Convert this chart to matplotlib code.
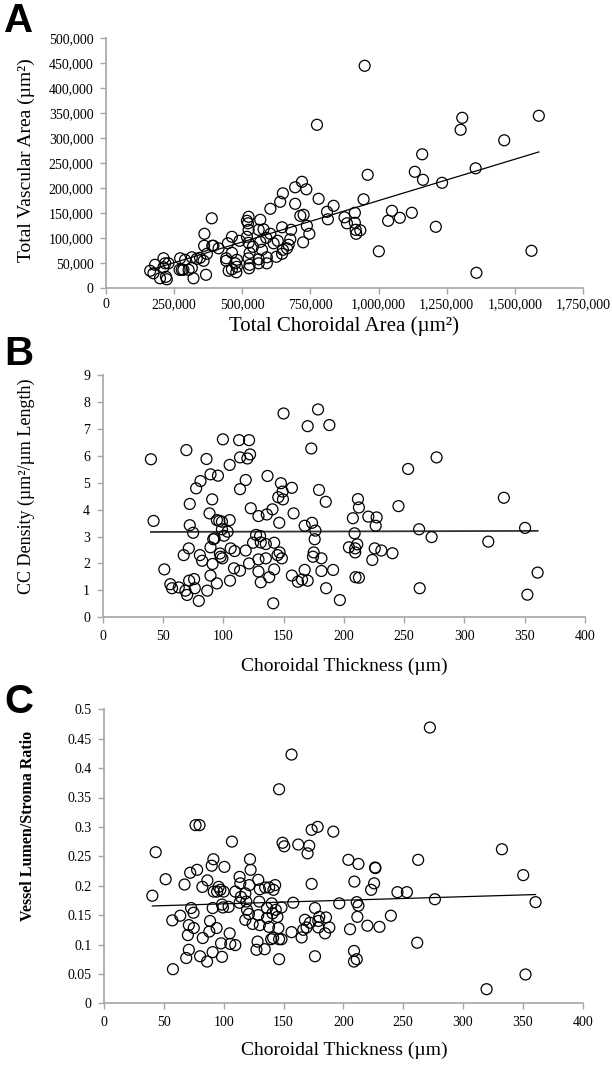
import matplotlib
matplotlib.use("Agg")
import matplotlib.pyplot as plt
import numpy as np
from matplotlib.ticker import FuncFormatter, MultipleLocator

# ---------------- Data ----------------
# Panel A: total choroidal area vs total vascular area (um^2)
a_x = [774000, 388000, 719000, 694000, 735000, 649000, 780000, 835000, 639000, 694000,
       603000, 566000, 523000, 517000, 521000, 725000, 713000, 811000, 814000, 737000,
       746000, 723000, 646000, 679000, 578000, 560000, 603000, 588000, 566000, 523000,
       517000, 523000, 490000, 462000, 447000, 413000, 390000, 361000, 360000, 394000,
       370000, 333000, 358000, 345000, 315000, 290000, 272000, 315000, 303000, 278000,
       270000, 321000, 367000, 441000, 441000, 462000, 480000, 474000, 480000, 462000,
       450000, 478000, 527000, 523000, 527000, 525000, 560000, 560000, 590000, 590000,
       572000, 539000, 625000, 646000, 649000, 664000, 670000, 676000, 630000, 615000,
       211000, 180000, 217000, 229000, 162000, 174000, 198000, 223000, 220000, 211000,
       284000,
       949000, 1307000, 1301000, 1588000, 1461000, 1160000, 1133000, 1163000, 1233000, 1356000,
       960000, 945000, 913000, 875000, 884000, 913000, 916000, 918000, 933000, 1049000,
       1035000, 1078000, 1122000, 1210000, 1001000, 1561000, 1359000]
a_y = [327000, 140000, 213000, 202000, 198000, 190000, 179000, 165000, 173000, 169000,
       159000, 137000, 143000, 135000, 130000, 147000, 145000, 153000, 138000, 125000,
       109000, 92000, 122000, 117000, 118000, 117000, 109000, 101000, 93000, 117000,
       103000, 91000, 95000, 103000, 90000, 80000, 85000, 109000, 85000, 85000,
       69000, 59000, 55000, 61000, 62000, 57000, 60000, 41000, 37000, 37000,
       37000, 20000, 27000, 60000, 55000, 71000, 57000, 50000, 43000, 38000,
       35000, 32000, 71000, 60000, 47000, 40000, 58000, 50000, 50000, 62000,
       77000, 83000, 63000, 69000, 77000, 80000, 87000, 98000, 95000, 90000,
       60000, 47000, 50000, 50000, 35000, 30000, 20000, 18000, 23000, 42000,
       37000,
       445000, 341000, 317000, 345000, 296000, 268000, 233000, 217000, 211000, 240000,
       227000, 178000, 151000, 142000, 130000, 131000, 117000, 109000, 116000, 155000,
       135000, 141000, 151000, 123000, 74000, 75000, 31000]
a_trend = [0.1655, 9900.0]   # slope, intercept

# Panel B: choroidal thickness (um) vs CC density
b_x = [40, 42.2, 51.1, 56.1, 57.5, 63.1, 68.6, 70, 69.4, 72.2, 72.2, 75, 71.4, 67.2, 71.7,
       75.8, 76.4, 79.7, 77.5, 81.1, 86.1, 89.4, 95.6, 90.8, 88.6, 80.6, 82.5, 86.7, 89.4,
       91.7, 92.8, 89.4, 91.1, 94.7, 94.7, 96.7, 98.9, 99.7, 98.9, 103.6, 97.2, 99.2, 97.8,
       100.6, 105.3, 105.3, 105.6, 106.1, 109.4, 108.9, 113.9, 113.1, 113.9, 113.9, 118.6,
       121.4, 120, 122.2, 122.8, 118.6, 121.4, 129.2, 127.2, 130.5, 124.7, 131.1, 129.2,
       129.2, 131.1, 136.7, 136.1, 140.8, 135.3, 142.2, 135.3, 138.1, 142.2, 145, 141.4,
       145.6, 147.8, 146.4,
       150, 178.6, 170, 188, 173, 149.2, 149.5, 156.9, 158.3, 179.4, 185, 167.5, 173.6,
       176.4, 175.8, 146.7, 148.6, 175, 174.4, 181.4, 156.9, 161.9, 170, 167.5, 165.3,
       181.4, 191.1, 185.3, 196.7, 211.7, 212.5, 207.5, 220.3, 227.2, 226.4, 208.9, 204.2,
       211.1, 209.4, 209.4, 225.6, 231.1, 240.3, 223.6, 209.7, 212.5, 245.3, 253.3,
       276.9, 332.7, 262.4, 272.8, 319.8, 350.3, 360.7, 262.9, 352.2]
b_y = [5.87, 3.58, 1.78, 1.23, 1.08, 1.11, 0.99, 0.83, 6.21, 4.21, 3.42, 3.14, 2.56, 2.31,
       1.36, 1.42, 1.08, 0.61, 4.79, 5.06, 5.88, 5.31, 5.26, 4.38, 3.86, 2.31, 2.10, 0.99,
       1.55, 2.90, 2.93, 2.60, 1.98, 1.26, 3.61, 3.58, 3.55, 6.61, 3.27, 3.18, 2.37, 2.19,
       2.25, 3.03, 5.66, 3.61, 1.36, 2.56, 2.46, 1.82, 1.73, 6.58, 5.94, 4.76, 5.10, 6.58,
       5.90, 6.05, 4.05, 2.48, 2.00, 3.76, 3.06, 3.02, 2.77, 2.78, 2.15, 1.70, 1.30, 5.25,
       3.82, 4.01, 2.72, 2.77, 2.19, 1.49, 1.78, 2.31, 0.52, 4.46, 4.98, 3.51,
       7.57, 7.72, 7.10, 7.14, 6.27, 4.67, 4.38, 4.81, 3.86, 4.73, 4.29, 3.40, 3.51,
       3.22, 2.90, 2.41, 2.19, 2.41, 2.25, 2.19, 1.55, 1.32, 1.36, 1.76, 1.40,
       1.72, 1.76, 1.08, 0.64, 4.39, 4.08, 3.68, 3.74, 3.71, 3.40, 3.12, 2.60,
       2.71, 2.56, 2.41, 2.56, 2.48, 2.38, 2.13, 1.49, 1.47, 4.13, 5.51,
       5.94, 4.44, 3.27, 2.98, 2.81, 3.32, 1.66, 1.08, 0.84]
b_trend = [0.000124, 3.165]

# Panel C: choroidal thickness (um) vs vessel lumen / stroma ratio
c_x = [40.4, 43.2, 51.5, 57.1, 57.6, 63.7, 67.3, 72, 77.8, 76.5, 79.8, 72.8, 74.8, 70.9,
       70.1, 75, 70.9, 68.7, 80.3, 86.1, 90.8, 82.5, 88, 88.6, 94.1, 90.8, 82.2, 86.4, 91.4,
       90, 91.7, 94.5, 95.8, 97.2, 100.6, 98.6, 99.4, 100, 97.8, 98.6, 105.5, 109.7, 105,
       104.1, 106.9, 109.7, 113.3, 113.9, 114.4, 113.3, 118.1, 118.9, 119.5, 118.1, 121.4,
       122, 122.5, 121.1, 124.2, 128.9, 130.2, 129.7, 128.9, 130.2, 128.3, 127.4, 134.3,
       136.2, 136.2, 137.9, 134.7, 138, 141.6, 140.2, 140.8, 143, 143.5, 144.9, 145.7,
       139.7, 141.3, 146.3, 146.3, 146.3,
       156.7, 149.2, 150.6, 162.3, 171.5, 170.1, 173.5, 178.5, 191.6, 204.2, 212.6, 226.5,
       226.8, 209.2, 225.7, 223.2, 173.5, 158.1, 176.3, 196.6, 211.2, 212.6, 211.7, 148.3,
       179.9, 185.5, 179.1, 172.1, 167.9, 169.3, 166.5, 165.1, 179.1, 188.3, 184.7, 156.7,
       148.3, 205.6, 220.1, 230.2, 239.7, 176.3, 208.9, 208.9, 211.2, 245.2, 253.1,
       272.3, 262.5, 276.5, 261.7, 332.5, 350.3, 360.6, 352.2, 319.7]
c_y = [0.183, 0.257, 0.211, 0.141, 0.058, 0.149, 0.202, 0.222, 0.227, 0.303, 0.303, 0.162,
       0.154, 0.133, 0.116, 0.128, 0.091, 0.077, 0.080, 0.071, 0.087, 0.111, 0.122, 0.140,
       0.128, 0.162, 0.198, 0.209, 0.245, 0.234, 0.190, 0.190, 0.198, 0.193, 0.232, 0.168,
       0.163, 0.190, 0.102, 0.079, 0.101, 0.099, 0.119, 0.164, 0.275, 0.190, 0.215, 0.204,
       0.181, 0.171, 0.187, 0.173, 0.159, 0.142, 0.201, 0.245, 0.227, 0.152, 0.135, 0.210,
       0.194, 0.173, 0.150, 0.133, 0.105, 0.091, 0.092, 0.162, 0.145, 0.130, 0.197, 0.197,
       0.193, 0.170, 0.153, 0.201, 0.159, 0.147, 0.128, 0.109, 0.111, 0.109, 0.364, 0.075,
       0.423, 0.273, 0.267, 0.270, 0.268, 0.255, 0.295, 0.300, 0.292, 0.244, 0.237, 0.231,
       0.230, 0.207, 0.204, 0.193, 0.203, 0.171, 0.162, 0.170, 0.172, 0.166, 0.147, 0.163,
       0.147, 0.146, 0.140, 0.137, 0.142, 0.129, 0.125, 0.112, 0.129, 0.129, 0.119, 0.121,
       0.109, 0.126, 0.132, 0.130, 0.149, 0.080, 0.089, 0.071, 0.075, 0.189, 0.189,
       0.469, 0.244, 0.177, 0.103, 0.262, 0.218, 0.172, 0.049, 0.024]
c_trend = [6.06e-5, 0.1631]

# ---------------- Figure ----------------
W, H = 612, 1069
fig = plt.figure(figsize=(W / 100, H / 100), dpi=100)
SERIF = ["Liberation Serif", "DejaVu Serif"]
SANS = ["Liberation Sans", "DejaVu Sans"]
GRAY = "#a6a6a6"

def px_axes(left, top, right, bottom):
    return fig.add_axes([left / W, 1 - bottom / H, (right - left) / W, (bottom - top) / H])

def style(ax, fs, xpad=5):
    for s in ("top", "right"):
        ax.spines[s].set_visible(False)
    for s in ("left", "bottom"):
        ax.spines[s].set_color(GRAY)
        ax.spines[s].set_linewidth(1.2)
    ax.tick_params(direction="out", length=4, width=1.0, color=GRAY,
                   labelsize=fs, pad=5)
    ax.tick_params(axis="x", pad=xpad)
    for lab in ax.get_xticklabels() + ax.get_yticklabels():
        lab.set_family(SERIF)

def scatter(ax, x, y, trend, lw=0.9, color="black"):
    ax.scatter(x, y, s=62, facecolors="none", edgecolors="black", linewidths=0.9,
               clip_on=False, zorder=3)
    xs = np.array([min(x), max(x)])
    ax.plot(xs, trend[0] * xs + trend[1], color=color, lw=lw, zorder=2)

comma = FuncFormatter(lambda v, p: f"{int(round(v)):,}")

# Panel A
axA = px_axes(106, 38.3, 583, 288.3)
scatter(axA, a_x, a_y, a_trend)
axA.set_xlim(0, 1750000)
axA.set_ylim(0, 500000)
axA.xaxis.set_major_locator(MultipleLocator(250000))
axA.yaxis.set_major_locator(MultipleLocator(50000))
axA.xaxis.set_major_formatter(comma)
axA.yaxis.set_major_formatter(comma)
style(axA, 10, xpad=3)
fig.text(344 / W, 1 - 326 / H, "Total Choroidal Area (\u00b5m\u00b2)", ha="center",
         va="center", fontsize=15, family=SERIF)
fig.text(26 / W, 1 - 160 / H, "Total Vascular Area (\u00b5m\u00b2)", ha="center",
         va="center", rotation=90, fontsize=14, family=SERIF)
fig.text(4 / W, 1 - 21 / H, "A", ha="left", va="center", fontsize=29,
         fontweight="bold", family=SANS)

# Panel B
axB = px_axes(102.7, 375, 585, 617.3)
scatter(axB, b_x, b_y, b_trend, lw=1.3, color="#333333")
axB.set_xlim(0, 400)
axB.set_ylim(0, 9)
axB.xaxis.set_major_locator(MultipleLocator(50))
axB.yaxis.set_major_locator(MultipleLocator(1))
style(axB, 10)
fig.text(344 / W, 1 - 666 / H, "Choroidal Thickness (\u00b5m)", ha="center",
         va="center", fontsize=14, family=SERIF)
fig.text(26 / W, 1 - 486 / H, "CC Density (\u00b5m\u00b2/\u00b5m Length)", ha="center",
         va="center", rotation=90, fontsize=13, family=SERIF)
fig.text(4 / W, 1 - 354 / H, "B", ha="left", va="center", fontsize=29,
         fontweight="bold", family=SANS)

# Panel C
axC = px_axes(104, 709.3, 582.7, 1003.3)
scatter(axC, c_x, c_y, c_trend)
axC.set_xlim(0, 400)
axC.set_ylim(0, 0.5)
axC.xaxis.set_major_locator(MultipleLocator(50))
axC.yaxis.set_major_locator(MultipleLocator(0.05))
axC.yaxis.set_major_formatter(FuncFormatter(lambda v, p: f"{v:.2f}".rstrip("0").rstrip(".")))
style(axC, 10)
fig.text(344 / W, 1 - 1050 / H, "Choroidal Thickness (\u00b5m)", ha="center",
         va="center", fontsize=14, family=SERIF)
fig.text(28 / W, 1 - 826 / H, "Vessel Lumen/Stroma Ratio", ha="center",
         va="center", rotation=90, fontsize=11.5, fontweight="bold", family=SERIF)
fig.text(4 / W, 1 - 702 / H, "C", ha="left", va="center", fontsize=29,
         fontweight="bold", family=SANS)

fig.savefig("out.png", dpi=100, facecolor="white")
